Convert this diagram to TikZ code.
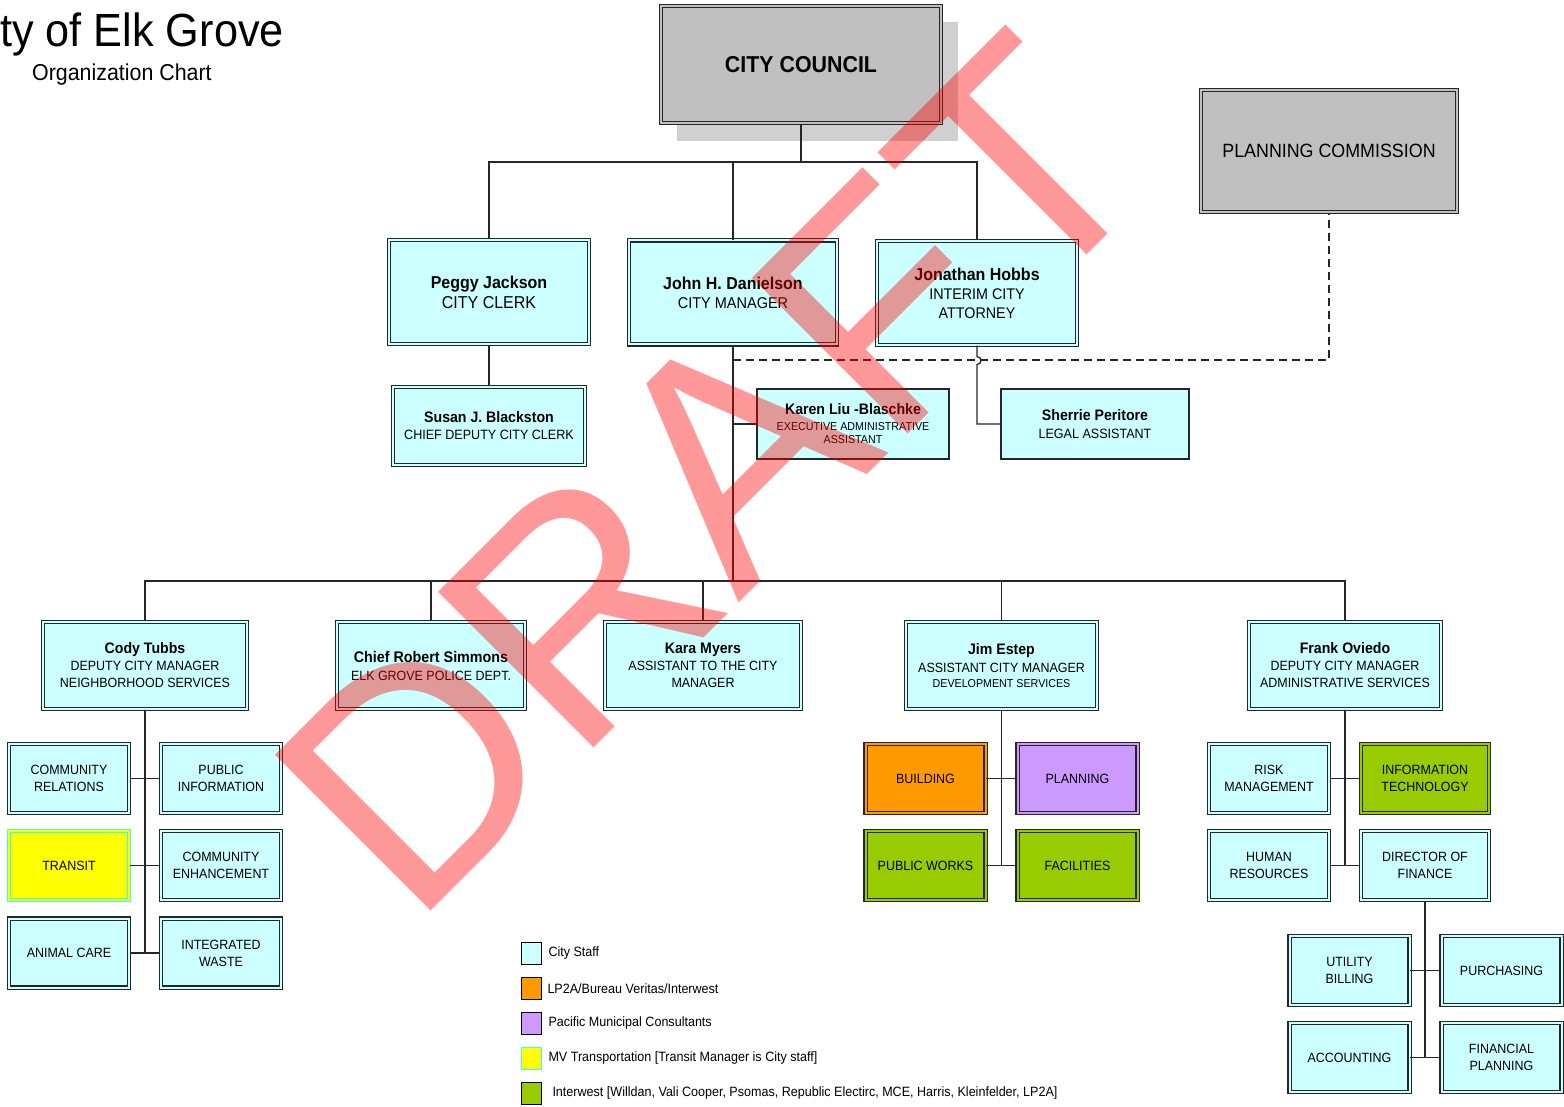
\documentclass[tikz,border=0pt]{standalone}
\usepackage{fontspec}
\setmainfont{Liberation Sans}[FakeStretch=0.93]
\newfontfamily\wmfont{Liberation Sans}
\newcommand{\setfs}[2]{\fontsize{#1}{#2}\selectfont}
\definecolor{staffcyan}{HTML}{CCFFFF}
\definecolor{boardgray}{HTML}{C0C0C0}
\definecolor{shadowgray}{HTML}{D0D0D0}
\definecolor{bvorange}{HTML}{FF9900}
\definecolor{pmcpurple}{HTML}{CC99FF}
\definecolor{iwgreen}{HTML}{99CC00}
\definecolor{mvyellow}{HTML}{FFFF00}
\definecolor{mvcyan}{HTML}{33FFFF}
\definecolor{linegray}{HTML}{262626}
\begin{document}
\begin{tikzpicture}[x=1pt,y=-1pt,
  sz/.style 2 args={minimum width=#1pt,minimum height=#2pt},
  unit/.style={draw=linegray,line width=1.1pt,double distance=2pt,inner sep=0pt,align=center,text=black},
  staff/.style={unit,fill=staffcyan,double=staffcyan},
  board/.style={unit,fill=boardgray,double=boardgray},
  single/.style={draw=linegray,line width=1.3pt,fill=staffcyan,inner sep=0pt,align=center,text=black},
  dept/.style={sz={120}{69},font=\setfs{13.4}{17}},
  conn/.style={draw=linegray,line width=1.3pt},
  advisory/.style={conn,dash pattern=on 8pt off 5pt},
  legsq/.style={draw=black,line width=1.6pt,minimum width=20pt,minimum height=22pt,inner sep=0pt},
  legtxt/.style={anchor=west,inner sep=0pt,font=\setfs{13.5}{15}}
]
\useasboundingbox (0,0) rectangle (1564,1107);

% heading
\node[anchor=base west,inner sep=0pt,font=\setfs{46.5}{50}] (title) at (0,47) {ty of Elk Grove};
\node[anchor=base west,inner sep=0pt,font=\setfs{23}{26}] (subtitle) at (32,81) {Organization Chart};

% elected and appointed bodies
\node[fill=shadowgray,sz={281}{119},inner sep=0pt] (cshadow) at (817.5,81.5) {};
\node[board,sz={280}{117},font=\bfseries\setfs{23}{26}] (council) at (801,64.5) {CITY COUNCIL};
\node[board,sz={256}{122},font=\setfs{19.2}{22}] (plan) at (1329,151) {PLANNING COMMISSION};

% council appointees
\node[staff,sz={200}{104},font=\setfs{17.2}{20}] (peggy) at (489,292) {{\bfseries Peggy Jackson}\\CITY CLERK};
\node[staff,sz={208}{104},font=\setfs{15.6}{19}] (john) at (733,292.5) {{\bfseries\setfs{17.2}{19}John H. Danielson}\\CITY MANAGER};
\node[staff,sz={200}{104},font=\setfs{15.4}{19}] (jon) at (977,293) {{\bfseries\setfs{17.2}{19}Jonathan Hobbs}\\INTERIM CITY\\ATTORNEY};
\node[staff,sz={192}{78},font=\setfs{13.5}{17}] (susan) at (489,426) {{\bfseries\setfs{15.2}{17}Susan J. Blackston}\\CHIEF DEPUTY CITY CLERK};
\node[single,sz={192}{70},font=\setfs{11.5}{13}] (karen) at (853,424) {{\bfseries\setfs{15.2}{16}Karen Liu -Blaschke}\\[3pt]EXECUTIVE ADMINISTRATIVE\\ASSISTANT};
\node[single,sz={188}{70},font=\setfs{13.5}{18}] (sherrie) at (1095,424) {{\bfseries\setfs{15.2}{18}Sherrie Peritore}\\LEGAL ASSISTANT};

% department heads
\node[staff,sz={204}{87},font=\setfs{13.4}{17}] (cody) at (145,665.5) {{\bfseries\setfs{15.2}{17}Cody Tubbs}\\DEPUTY CITY MANAGER\\NEIGHBORHOOD SERVICES};
\node[staff,sz={188}{87},font=\setfs{13.4}{18}] (robert) at (431,665.5) {{\bfseries\setfs{15.4}{18}Chief Robert Simmons}\\ELK GROVE POLICE DEPT.};
\node[staff,sz={196}{87},font=\setfs{13.4}{17}] (kara) at (703,665.5) {{\bfseries\setfs{15.2}{17}Kara Myers}\\ASSISTANT TO THE CITY\\MANAGER};
\node[staff,sz={191}{87},font=\setfs{13.4}{17}] (jim) at (1001.5,665.5) {{\bfseries\setfs{15.2}{17}Jim Estep}\\[1pt]ASSISTANT CITY MANAGER\\[-2pt]{\setfs{11.5}{15}DEVELOPMENT SERVICES}};
\node[staff,sz={192}{87},font=\setfs{13.4}{17}] (frank) at (1345,665.5) {{\bfseries\setfs{15.2}{17}Frank Oviedo}\\DEPUTY CITY MANAGER\\ADMINISTRATIVE SERVICES};

% neighborhood services divisions
\node[staff,dept] (commrel) at (69,778.5) {COMMUNITY\\RELATIONS};
\node[staff,dept] (pubinfo) at (221,778.5) {PUBLIC\\INFORMATION};
\node[unit,dept,draw=mvcyan,fill=mvyellow,double=mvyellow] (transit) at (69,865.5) {TRANSIT};
\node[staff,dept] (commenh) at (221,865.5) {COMMUNITY\\ENHANCEMENT};
\node[staff,dept] (animal) at (69,953) {ANIMAL CARE};
\node[staff,dept] (waste) at (221,953) {INTEGRATED\\WASTE};

% development services divisions
\node[unit,dept,fill=bvorange,double=bvorange] (building) at (925.5,778.5) {BUILDING};
\node[unit,dept,fill=pmcpurple,double=pmcpurple] (planning) at (1077.5,778.5) {PLANNING};
\node[unit,dept,fill=iwgreen,double=iwgreen] (pubworks) at (925.5,865.5) {PUBLIC WORKS};
\node[unit,dept,fill=iwgreen,double=iwgreen] (facilities) at (1077.5,865.5) {FACILITIES};

% administrative services divisions
\node[staff,dept] (risk) at (1269,778.5) {RISK\\MANAGEMENT};
\node[unit,dept,sz={128}{69},fill=iwgreen,double=iwgreen] (infotech) at (1425,778.5) {INFORMATION\\TECHNOLOGY};
\node[staff,dept] (hr) at (1269,865.5) {HUMAN\\RESOURCES};
\node[staff,dept,sz={128}{69}] (finance) at (1425,865.5) {DIRECTOR OF\\FINANCE};
\node[staff,dept] (utility) at (1349.5,970.5) {UTILITY\\BILLING};
\node[staff,dept] (purchasing) at (1501.5,970.5) {PURCHASING};
\node[staff,dept] (accounting) at (1349.5,1057.5) {ACCOUNTING};
\node[staff,dept] (finplan) at (1501.5,1057.5) {FINANCIAL\\PLANNING};

% reporting lines
\coordinate (busA) at (0,162);
\coordinate (busB) at (0,581);
\coordinate (advy) at (0,360);
\draw[conn] (council.south) -- (council.south |- busA);
\draw[conn] (peggy.north) -- (peggy.north |- busA) -- (jon.north |- busA) -- (jon.north);
\draw[conn] (john.north) -- (john.north |- busA);
\draw[conn] (peggy.south) -- (susan.north);
\draw[advisory] (john.south |- advy) -- (plan.south |- advy) -- (plan.south);
\draw[conn] (john.south) -- (john.south |- busB);
\draw[conn] (john.south |- karen.west) -- (karen.west);
\draw[conn] (jon.south) -- ++(0,11) arc[start angle=90,end angle=-90,radius=4pt] -- (jon.south |- sherrie.west) -- (sherrie.west);
\draw[conn] (cody.north) -- (cody.north |- busB) -- (frank.north |- busB) -- (frank.north);
\draw[conn] (robert.north) -- (robert.north |- busB);
\draw[conn] (kara.north) -- (kara.north |- busB);
\draw[conn] (jim.north) -- (jim.north |- busB);

\draw[conn] (cody.south) -- (cody.south |- animal.east);
\draw[conn] (commrel.east) -- (pubinfo.west);
\draw[conn] (transit.east) -- (commenh.west);
\draw[conn] (animal.east) -- (waste.west);

\draw[conn] (jim.south) -- (jim.south |- pubworks.east);
\draw[conn] (building.east) -- (planning.west);
\draw[conn] (pubworks.east) -- (facilities.west);

\draw[conn] (frank.south) -- (frank.south |- hr.east);
\draw[conn] (risk.east) -- (infotech.west);
\draw[conn] (hr.east) -- (finance.west);
\draw[conn] (finance.south) -- (finance.south |- accounting.east);
\draw[conn] (utility.east) -- (purchasing.west);
\draw[conn] (accounting.east) -- (finplan.west);

% legend
\node[legsq,fill=staffcyan] (lg1) at (531.5,953.5) {};
\node[legtxt] (lt1) at ([xshift=6pt]lg1.east) {City Staff};
\node[legsq,fill=bvorange] (lg2) at (531.5,988.5) {};
\node[legtxt] (lt2) at ([xshift=5pt]lg2.east) {LP2A/Bureau Veritas/Interwest};
\node[legsq,fill=pmcpurple] (lg3) at (531.5,1023.5) {};
\node[legtxt] (lt3) at ([xshift=6pt]lg3.east) {Pacific Municipal Consultants};
\node[legsq,draw=mvcyan,fill=mvyellow] (lg4) at (531.5,1058.5) {};
\node[legtxt] (lt4) at ([xshift=6pt]lg4.east) {MV Transportation [Transit Manager is City staff]};
\node[legsq,fill=iwgreen] (lg5) at (531.5,1093.5) {};
\node[legtxt] (lt5) at ([xshift=10pt]lg5.east) {Interwest [Willdan, Vali Cooper, Psomas, Republic Electirc, MCE, Harris, Kleinfelder, LP2A]};

% watermark
\node[anchor=base west,inner sep=0pt,rotate=45,text=red,text opacity=0.4,font=\wmfont\setfs{320}{320}] (draft) at (412,930) {DRAFT};
\end{tikzpicture}
\end{document}
